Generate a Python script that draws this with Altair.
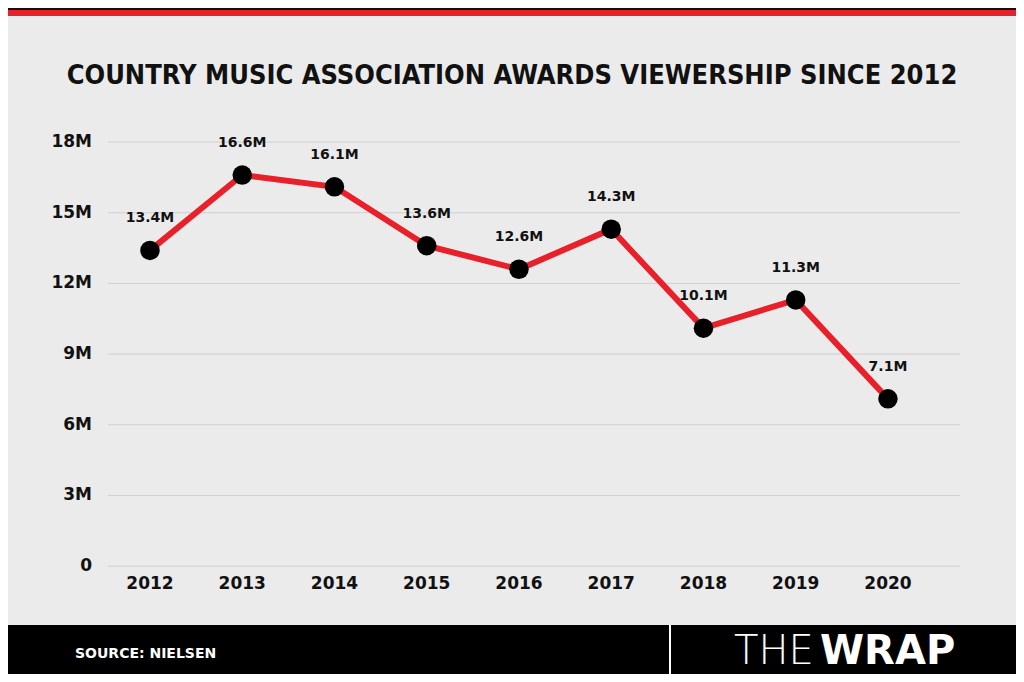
import altair as alt
import pandas as pd

years = [2012, 2013, 2014, 2015, 2016, 2017, 2018, 2019, 2020]
viewers = [13.4, 16.6, 16.1, 13.6, 12.6, 14.3, 10.1, 11.3, 7.1]
labels = ["13.4M", "16.6M", "16.1M", "13.6M", "12.6M", "14.3M", "10.1M", "11.3M", "7.1M"]
ticks = [0, 3, 6, 9, 12, 15, 18]
tick_labels = ["0", "3M", "6M", "9M", "12M", "15M", "18M"]

df = pd.DataFrame({"year": years, "v": viewers, "label": labels})
grid = pd.DataFrame({"v": ticks, "label": tick_labels})
one = pd.DataFrame({"a": [0]})

W, H = 1008, 666
xs = alt.Scale(domain=[2010.461, 2021.388], nice=False, zero=False)
ys = alt.Scale(domain=[-4.58, 23.69], nice=False, zero=False)
X = alt.X("year:Q", scale=xs, axis=None)
Y = alt.Y("v:Q", scale=ys, axis=None)

bg = alt.Chart(one).mark_rect(color="#ebebeb").encode(
    x=alt.value(0), x2=alt.value(W), y=alt.value(0), y2=alt.value(H))
top_black = alt.Chart(one).mark_rect(color="#111111").encode(
    x=alt.value(0), x2=alt.value(W), y=alt.value(0), y2=alt.value(2))
top_red = alt.Chart(one).mark_rect(color="#e8202a").encode(
    x=alt.value(0), x2=alt.value(W), y=alt.value(2), y2=alt.value(8))
footer = alt.Chart(one).mark_rect(color="#000000").encode(
    x=alt.value(0), x2=alt.value(W), y=alt.value(617), y2=alt.value(H))
divider = alt.Chart(one).mark_rule(color="white", strokeWidth=2).encode(
    x=alt.value(662), y=alt.value(617), y2=alt.value(H))

title = alt.Chart(one).mark_text(
    text="COUNTRY MUSIC ASSOCIATION AWARDS VIEWERSHIP SINCE 2012",
    font="DejaVu Sans Condensed", fontWeight="bold",
    fontSize=27, color="#111111", align="center", baseline="middle"
).encode(x=alt.value(504), y=alt.value(68))

gridlines = alt.Chart(grid).mark_rule(color="#cfcfcf", strokeWidth=1).encode(
    y=Y, x=alt.value(100), x2=alt.value(952))
ylabels = alt.Chart(grid).mark_text(
    font="DejaVu Sans", fontWeight="bold", fontSize=17,
    align="right", baseline="middle", color="#111111"
).encode(y=Y, x=alt.value(84), text="label:N")
xlabels = alt.Chart(df).mark_text(
    font="DejaVu Sans", fontWeight="bold", fontSize=17,
    align="center", baseline="middle", color="#111111"
).encode(x=X, y=alt.value(576), text="year:N")

line = alt.Chart(df).mark_line(color="#e8202a", strokeWidth=6).encode(x=X, y=Y)
points = alt.Chart(df).mark_point(filled=True, color="#000000", size=380, opacity=1).encode(x=X, y=Y)
vlabels = alt.Chart(df).mark_text(
    font="DejaVu Sans", fontWeight="bold", fontSize=14, dy=-32, color="#111111"
).encode(x=X, y=Y, text="label:N")

source = alt.Chart(one).mark_text(
    text="SOURCE: NIELSEN", font="DejaVu Sans", fontWeight="bold", fontSize=14,
    color="white", align="left", baseline="middle"
).encode(x=alt.value(67), y=alt.value(646))
logo_the = alt.Chart(one).mark_text(
    text="THE", font="DejaVu Sans", fontWeight=200, fontSize=40,
    color="white", align="left", baseline="middle"
).encode(x=alt.value(726), y=alt.value(644))
logo_wrap = alt.Chart(one).mark_text(
    text="WRAP", font="DejaVu Sans", fontWeight="bold", fontSize=40,
    color="white", align="left", baseline="middle"
).encode(x=alt.value(812), y=alt.value(644))

chart = alt.layer(
    bg, top_black, top_red, footer, divider, title, gridlines, ylabels, xlabels,
    line, points, vlabels, source, logo_the, logo_wrap
).properties(
    width=W, height=H, padding=0, autosize=alt.AutoSizeParams(type="none")
).configure_view(stroke=None).configure(background="white")

chart.save("out.html", embed_options={"renderer": "svg", "actions": False})
